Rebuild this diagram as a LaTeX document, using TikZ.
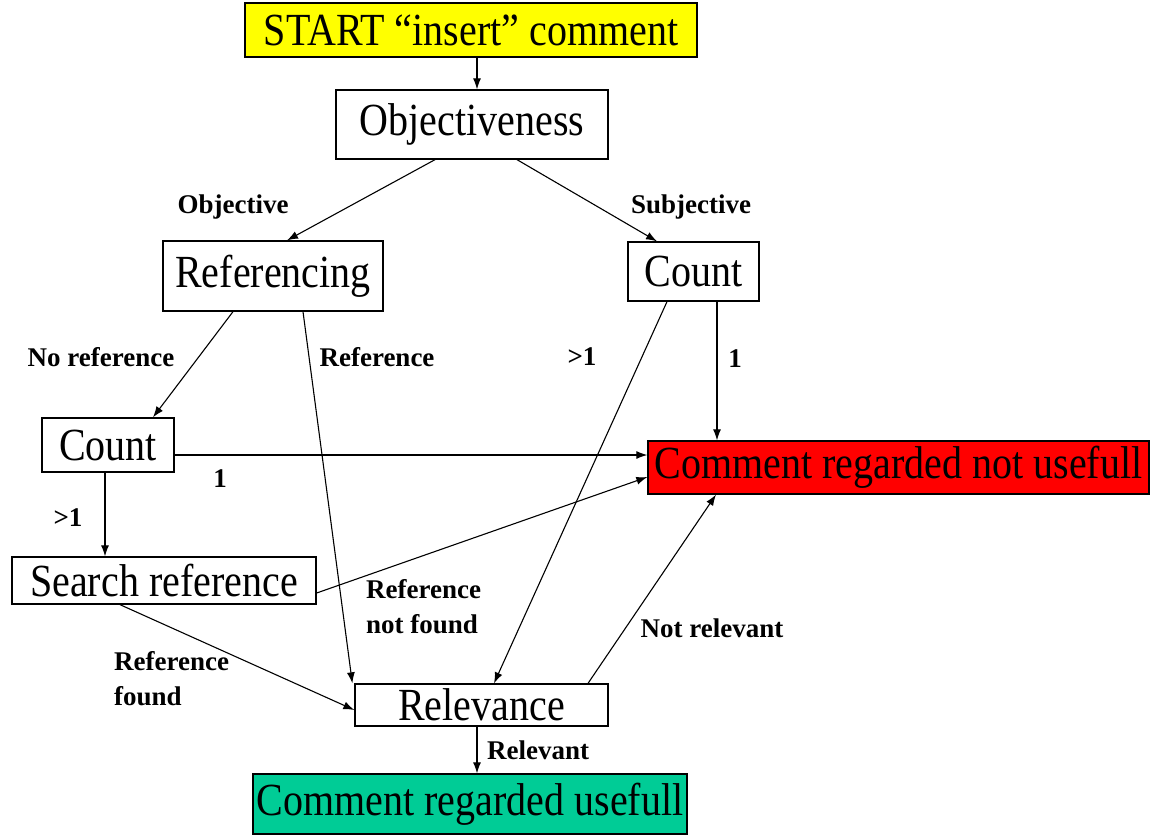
\documentclass[tikz,border=0pt]{standalone}
\usepackage{fontspec}
\usepackage{graphicx}
\setmainfont{Liberation Serif}
\usetikzlibrary{arrows.meta}
\definecolor{startyellow}{RGB}{255,255,0}
\definecolor{badred}{RGB}{255,0,0}
\definecolor{goodteal}{RGB}{0,204,150}
\newcommand{\tallt}[1]{\scalebox{1}[1.15]{#1}}
\begin{document}
\begin{tikzpicture}[x=1pt,y=-1pt,
  box/.style={draw=black, line width=1.3pt, inner sep=0pt, text=black,
    font=\fontsize{40}{44}\selectfont},
  lab/.style={inner sep=0pt, font=\bfseries\fontsize{27}{35}\selectfont},
  arr/.style={-{Latex[length=11pt,width=8pt]}, line width=1.1pt}]
\useasboundingbox (0,0) rectangle (1160,836);
% nodes
\node[box, fill=startyellow, minimum width=452, minimum height=54] (start) at (471,30) {\tallt{START “insert” comment}};
\node[box, minimum width=272, minimum height=69] (obj) at (472,124.5) {\tallt{Objectiveness}};
\node[box, minimum width=220, minimum height=70] (ref) at (273,276) {\tallt{Referencing}};
\node[box, minimum width=131, minimum height=59] (countR) at (693.5,271.5) {\tallt{Count}};
\node[box, minimum width=132, minimum height=54] (countL) at (108,445) {\tallt{Count}};
\node[box, fill=badred, minimum width=501, minimum height=53] (notuse) at (898.5,467.5) {\tallt{Comment regarded not usefull}};
\node[box, minimum width=304, minimum height=47] (search) at (164,580.5) {\tallt{Search reference}};
\node[box, minimum width=253, minimum height=42] (rel) at (481.5,705) {\tallt{Relevance}};
\node[box, fill=goodteal, minimum width=434, minimum height=60] (use) at (470,804) {\tallt{Comment regarded usefull}};
% connectors
\draw[arr] ([xshift=6pt]start.south) -- ([xshift=5pt]obj.north);
\draw[arr] ([xshift=-37pt]obj.south) -- ([xshift=14pt]ref.north);
\draw[arr] ([xshift=45pt]obj.south) -- ([xshift=-36.5pt]countR.north);
\draw[arr] ([xshift=-40pt]ref.south) -- ([xshift=45pt]countL.north);
\draw[arr] ([xshift=30pt]ref.south) -- ([xshift=-2pt]rel.north west);
\draw[arr] ([xshift=-26.5pt]countR.south) -- ([xshift=12.5pt]rel.north);
\draw[arr] ([xshift=23.5pt]countR.south) -- ([xshift=-181.5pt]notuse.north);
\draw[arr] ([yshift=-10pt]countL.east) -- ([yshift=12.5pt]notuse.west);
\draw[arr] ([xshift=-3pt]countL.south) -- ([xshift=-59pt]search.north);
\draw[arr] ([yshift=-12.5pt]search.east) -- ([yshift=-9.5pt]notuse.west);
\draw[arr] ([xshift=-44pt]search.south) -- ([yshift=-5pt]rel.west);
\draw[arr] ([xshift=106.5pt]rel.north) -- ([xshift=-182.5pt]notuse.south);
\draw[arr] ([xshift=-4.5pt]rel.south) -- ([xshift=7pt]use.north);
% labels
\node[lab] (lObj) at (233,207) {Objective};
\node[lab] (lSub) at (691,207) {Subjective};
\node[lab] (lNoRef) at (101,357) {No reference};
\node[lab] (lRef) at (377,357) {Reference};
\node[lab] (lGtR) at (582,357) {>1};
\node[lab] (lOneR) at (735,359) {1};
\node[lab] (lOneL) at (220,479) {1};
\node[lab] (lGtL) at (68,518) {>1};
\node[lab, align=left, anchor=west] (lNotFound) at (366,607) {Reference\\not found};
\node[lab] (lNotRel) at (712,628) {Not relevant};
\node[lab, align=left, anchor=west] (lFound) at (114,679) {Reference\\found};
\node[lab, anchor=west] (lRelv) at (487,750) {Relevant};
\end{tikzpicture}
\end{document}
